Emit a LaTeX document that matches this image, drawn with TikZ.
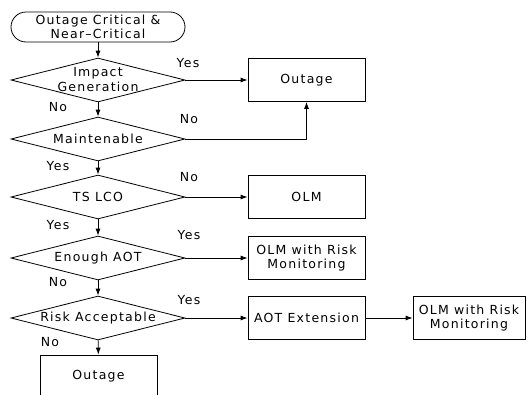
\documentclass[tikz,border=0pt]{standalone}
\usepackage{fontspec}
\setmainfont{DejaVu Sans}[LetterSpace=10]
\usetikzlibrary{shapes.geometric,arrows.meta}
\begin{document}
\begin{tikzpicture}[x=1pt,y=-1pt,
  every node/.style={font=\fontsize{12.5}{14}\selectfont, inner sep=0pt},
  dec/.style={draw, diamond, aspect=4, minimum width=174pt, minimum height=44pt, line width=0.8pt},
  boxn/.style={draw, rectangle, minimum width=117pt, minimum height=43pt, align=center, line width=0.8pt},
  term/.style={draw, rectangle, rounded corners=15pt, minimum width=174pt, minimum height=30pt, align=center, line width=0.8pt},
  lbl/.style={},
  arr/.style={line width=0.8pt, -{Latex[length=7pt,width=5pt]}}]
\clip (0,0) rectangle (528,394);
\fill[white] (0,0) rectangle (528,394);
\node[term] (start) at (98,27) {Outage Critical \&\\Near--Critical};
\node[dec] (d1) at (98,80) {};
\node[align=center, font=\fontsize{12.5}{15}\selectfont] (t1) at (98,80) {Impact\\Generation};
\node[dec] (d2) at (98,139) {};
\node (t2) at (98,139) {Maintenable};
\node[dec] (d3) at (98,197) {};
\node (t3) at (98,197) {TS LCO};
\node[dec] (d4) at (98,258) {};
\node (t4) at (98,258) {Enough AOT};
\node[dec] (d5) at (98,318) {};
\node (t5) at (98,318) {Risk Acceptable};
\node[boxn] (out1) at (306.5,80) {Outage};
\node[boxn] (olm) at (306.5,197) {OLM};
\node[boxn] (olmr) at (306.5,258) {OLM with Risk\\Monitoring};
\node[boxn] (aotx) at (306.5,318) {AOT Extension};
\node[boxn, minimum width=112pt] (olmr2) at (469,318) {OLM with Risk\\Monitoring};
\node[boxn] (out2) at (98.5,376.5) {Outage};
\draw[arr] (start) -- (d1);
\draw[arr] (d1) -- (d2);
\draw[arr] (d2) -- (d3);
\draw[arr] (d3) -- (d4);
\draw[arr] (d4) -- (d5);
\draw[arr] (d5) -- (out2);
\draw[arr] (d1.east) -- (out1.west);
\draw[arr] (d2.east) -| (out1.south);
\draw[arr] (d3.east) -- (olm.west);
\draw[arr] (d4.east) -- (olmr.west);
\draw[arr] (d5.east) -- (aotx.west);
\draw[arr] (aotx.east) -- (olmr2.west);
\node[lbl] (y1) at (188,63) {Yes};
\node[lbl] (n1) at (58,107) {No};
\node[lbl] (n2) at (189,119) {No};
\node[lbl] (y2) at (58,166) {Yes};
\node[lbl] (n3) at (189,177) {No};
\node[lbl] (y3) at (58,225) {Yes};
\node[lbl] (y4) at (189,235) {Yes};
\node[lbl] (n4) at (58,282) {No};
\node[lbl] (y5) at (189,300) {Yes};
\node[lbl] (n5) at (50,342) {No};
\end{tikzpicture}
\end{document}
